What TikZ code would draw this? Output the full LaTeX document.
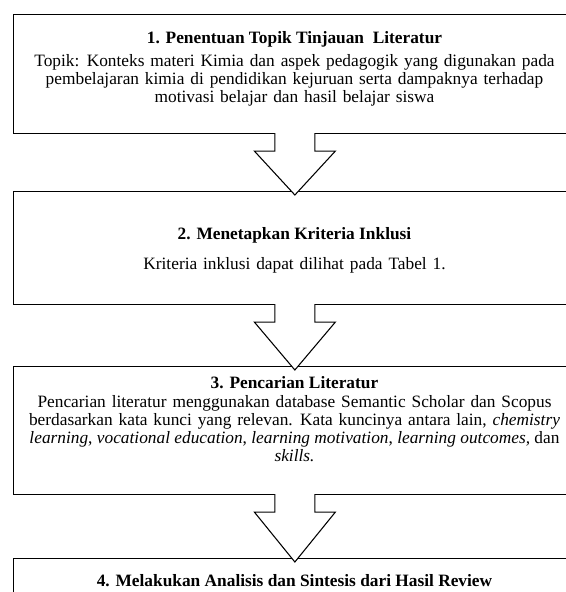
\documentclass[tikz,border=0pt]{standalone}
\usepackage{fontspec}
\setmainfont{Liberation Serif}
\usepackage{tikz}
\usetikzlibrary{positioning,calc}

% hollow block arrow from the bottom of one stage into the next
\newcommand{\stagearrow}[2]{%
  \draw[hollow] ($(#1.south)+(-20,-1)$) -- ++(0,18) -- ++(-20.5,0)
    -- ($(#2.north)+(0,4)$) -- ($(#1.south)+(40.5,17)$) -- ++(-20.5,0) -- ++(0,-18);}

\begin{document}
\begin{tikzpicture}[x=0.75pt, y=-0.75pt, font=\fontsize{13}{13.5}\selectfont,
  stage/.style={draw, line width=0.8pt, anchor=north west, minimum width=422pt, inner sep=0pt},
  heading/.style={font=\fontsize{13}{13.5}\selectfont\bfseries, inner sep=0pt},
  note/.style={align=center, inner sep=0pt, execute at begin node={\spaceskip=0.34em plus 0.1em minus 0.05em}},
  hollow/.style={draw, fill=white, line width=0.8pt, line join=miter}]
\useasboundingbox (0,0) rectangle (566,592);
\clip (0,0) rectangle (566,592);
% the four stages, boxes run past the right edge
\node[stage, minimum height=89.25pt] (b1) at (13,14) {};
\node[stage, minimum height=84.75pt] (b2) at (13,191) {};
\node[stage, minimum height=96pt] (b3) at (13,366) {};
\node[stage, minimum height=60pt] (b4) at (13,558) {};
% stage 1
\node[heading] (h1) at (294.5,39) {1. Penentuan Topik Tinjauan\ \ Literatur};
\node[note] (d1) at (294.5,80) {Topik: Konteks materi Kimia dan aspek pedagogik yang digunakan pada\\
  pembelajaran kimia di pendidikan kejuruan serta dampaknya terhadap\\
  motivasi belajar dan hasil belajar siswa};
% stage 2
\node[heading] (h2) at (294.5,235) {2. Menetapkan Kriteria Inklusi};
\node[note] (d2) at (294.5,265) {Kriteria inklusi dapat dilihat pada Tabel 1.};
% stage 3
\node[heading] (h3) at (294.5,383) {3. Pencarian Literatur};
\node[note] (d3) at (294.5,429) {Pencarian literatur menggunakan database Semantic Scholar dan Scopus\\
  berdasarkan kata kunci yang relevan. Kata kuncinya antara lain, \textit{chemistry}\\
  {\spaceskip=0pt \textit{learning}, \textit{vocational education}, \textit{learning motivation}, \textit{learning outcomes,} dan}\\
  \textit{skills.}};
% stage 4
\node[heading] (h4) at (294.5,581) {4. Melakukan Analisis dan Sintesis dari Hasil Review};
% arrows between stages
\stagearrow{b1}{b2}
\stagearrow{b2}{b3}
\stagearrow{b3}{b4}
\end{tikzpicture}
\end{document}
